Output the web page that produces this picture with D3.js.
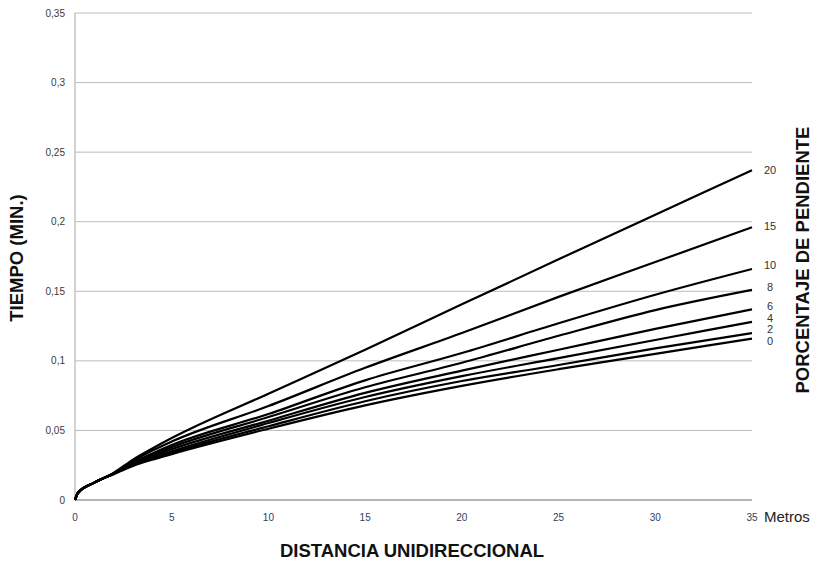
<!DOCTYPE html>
<html><head><meta charset="utf-8">
<script src="https://cdn.jsdelivr.net/npm/d3@7"></script>
<style>body{margin:0;background:#fff}</style>
</head><body><svg id="c" width="818" height="561"></svg>
<script>
// distance in metres (x) and time in minutes (y) for each slope percentage
const distances = [0, 0.15, 1, 2, 3, 4, 5, 10, 15, 20, 25, 30, 35];
const slopeLabels = ["20", "15", "10", "8", "6", "4", "2", "0"];
const time20 = [0, 0.005, 0.0125, 0.0195, 0.029, 0.037, 0.0445, 0.0764, 0.108, 0.1406, 0.173, 0.205, 0.237];
const time15 = [0, 0.005, 0.0125, 0.0193, 0.028, 0.0355, 0.042, 0.0675, 0.095, 0.120, 0.146, 0.171, 0.196];
const time10 = [0, 0.005, 0.0125, 0.0191, 0.027, 0.0335, 0.0395, 0.0618, 0.086, 0.1056, 0.127, 0.1475, 0.166];
const time8  = [0, 0.005, 0.0125, 0.019, 0.0265, 0.0325, 0.038, 0.0596, 0.081, 0.0986, 0.118, 0.1365, 0.151];
const time6  = [0, 0.005, 0.0125, 0.0189, 0.026, 0.0315, 0.0365, 0.057, 0.077, 0.093, 0.108, 0.123, 0.137];
const time4  = [0, 0.005, 0.0125, 0.0188, 0.0255, 0.0305, 0.035, 0.0553, 0.074, 0.089, 0.102, 0.115, 0.128];
const time2  = [0, 0.005, 0.0125, 0.0187, 0.025, 0.0298, 0.034, 0.053, 0.071, 0.0855, 0.097, 0.109, 0.120];
const time0  = [0, 0.005, 0.0125, 0.0186, 0.0245, 0.029, 0.033, 0.0512, 0.068, 0.082, 0.094, 0.105, 0.116];
const allSeries = [time20, time15, time10, time8, time6, time4, time2, time0];
// label anchor values (minutes) at the right edge, spread to avoid overlap
const labelAt = [0.237, 0.1968, 0.1688, 0.153, 0.1394, 0.1307, 0.1228, 0.1142];
const xTicks = [0, 5, 10, 15, 20, 25, 30, 35];
const yTicks = [0, 0.05, 0.1, 0.15, 0.2, 0.25, 0.3, 0.35];

const svg = d3.select("#c");
const x = d3.scaleLinear().domain([0, 35]).range([75, 752]);
const y = d3.scaleLinear().domain([0, 0.35]).range([500, 13]);
const fmt = v => String(+v.toFixed(2)).replace(".", ",");
const FONT = "Liberation Sans, Arial, sans-serif";

// gridlines
svg.append("g").selectAll("line").data(yTicks.filter(d => d > 0)).join("line")
  .attr("x1", x(0)).attr("x2", x(35))
  .attr("y1", d => y(d)).attr("y2", d => y(d))
  .attr("stroke", "#bdbdbd").attr("stroke-width", 1);

// axes lines
svg.append("line").attr("x1", x(0)).attr("x2", x(0)).attr("y1", y(0.35)).attr("y2", y(0))
  .attr("stroke", "#b5b5b5").attr("stroke-width", 1.2);
svg.append("line").attr("x1", x(0)).attr("x2", x(35)).attr("y1", y(0)).attr("y2", y(0))
  .attr("stroke", "#b5b5b5").attr("stroke-width", 1.8);

// y tick labels
svg.append("g").selectAll("text").data(yTicks).join("text")
  .attr("x", 65).attr("y", d => y(d)).attr("dy", "0.35em")
  .attr("text-anchor", "end")
  .attr("font-family", FONT).attr("font-size", 10)
  .attr("fill", "#3a3a3a").text(fmt);

// x tick labels
svg.append("g").selectAll("text").data(xTicks).join("text")
  .attr("x", d => x(d)).attr("y", 521)
  .attr("text-anchor", "middle")
  .attr("font-family", FONT).attr("font-size", 10)
  .attr("fill", "#33405a").text(d => d);

svg.append("text").attr("x", 764).attr("y", 522)
  .attr("font-family", FONT).attr("font-size", 15)
  .attr("fill", "#222").text("Metros");

// curves
const line = d3.line().x((d, i) => x(distances[i])).y(d => y(d)).curve(d3.curveMonotoneX);
svg.append("g").selectAll("path").data(allSeries).join("path")
  .attr("d", line).attr("fill", "none").attr("stroke", "#000").attr("stroke-width", 2.2)
  .attr("stroke-linejoin", "round");

// series labels
svg.append("g").selectAll("text").data(slopeLabels).join("text")
  .attr("x", 770).attr("y", (d, i) => y(labelAt[i])).attr("dy", "0.35em")
  .attr("text-anchor", "middle")
  .attr("font-family", FONT).attr("font-size", 11)
  .attr("fill", "#333").text(d => d);

// axis titles
svg.append("text").attr("transform", "translate(23,258) rotate(-90)")
  .attr("text-anchor", "middle")
  .attr("font-family", FONT).attr("font-size", 18.5).attr("font-weight", "bold")
  .attr("fill", "#111").text("TIEMPO (MIN.)");
svg.append("text").attr("x", 412).attr("y", 557)
  .attr("text-anchor", "middle")
  .attr("font-family", FONT).attr("font-size", 18.5).attr("font-weight", "bold")
  .attr("fill", "#111").text("DISTANCIA UNIDIRECCIONAL");
svg.append("text").attr("transform", "translate(809,260) rotate(-90)")
  .attr("text-anchor", "middle")
  .attr("font-family", FONT).attr("font-size", 18.5).attr("font-weight", "bold")
  .attr("fill", "#111").text("PORCENTAJE DE PENDIENTE");
</script></body></html>
